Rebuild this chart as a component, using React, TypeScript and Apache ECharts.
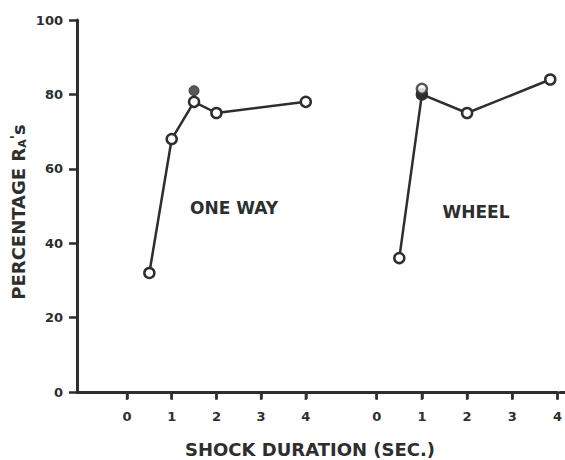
import React, { useEffect, useRef } from "react";
import * as echarts from "echarts";

const yTicks = [0, 20, 40, 60, 80, 100];
const xTicks = [0, 1, 2, 3, 4];
const oneWayX = [0.5, 1, 1.5, 2, 4];
const oneWayY = [32, 68, 78, 75, 78];
const oneWayFilledX = [1.5];
const oneWayFilledY = [81];
const wheelX = [0.5, 1, 2, 3.84];
const wheelY = [36, 80, 75, 84];
const wheelExtraX = [1];
const wheelExtraY = [81.5];
const panelLabels = ["ONE WAY", "WHEEL"];
const xTitle = "SHOCK DURATION (SEC.)";

const INK = "#2e2e2e";
const FONT = "'DejaVu Sans', sans-serif";

const zip = (xs: number[], ys: number[]) => xs.map((x, i) => [x, ys[i]]);

export default function App() {
  const ref = useRef<HTMLDivElement>(null);
  useEffect(() => {
    if (!ref.current) return;
    const chart = echarts.init(ref.current, undefined, { renderer: "svg" });
    const TOP = 20;
    const H = 372;
    const gA = { left: 77, width: 50 };
    const gB = { left: 127, width: 4 * 44.7 };
    const gC = { left: 127 + 4 * 44.7, width: 376.7 - (127 + 4 * 44.7) };
    const gD = { left: 376.7, width: 560 - 376.7 };
    const gE = { left: 560, width: 5 };
    const grids = [gA, gB, gC, gD, gE].map((g) => ({ ...g, top: TOP, height: H }));

    const lineOnlyX = (gridIndex: number) => ({
      type: "value" as const,
      gridIndex,
      min: 0,
      max: 1,
      splitLine: { show: false },
      axisLine: { show: true, onZero: false, lineStyle: { color: INK, width: 3 } },
      axisTick: { show: false },
      axisLabel: { show: false },
    });
    const tickedX = (gridIndex: number) => ({
      type: "value" as const,
      gridIndex,
      min: 0,
      max: xTicks[xTicks.length - 1],
      interval: 1,
      splitLine: { show: false },
      axisLine: { show: true, onZero: false, lineStyle: { color: INK, width: 3 } },
      axisTick: { show: true, length: 7, lineStyle: { color: INK, width: 2.5 } },
      axisLabel: {
        show: true,
        margin: 18,
        color: INK,
        fontSize: 13,
        fontWeight: "bold",
        fontFamily: FONT,
      },
    });
    const hiddenY = (gridIndex: number) => ({
      type: "value" as const,
      gridIndex,
      min: 0,
      max: 100,
      show: false,
      splitLine: { show: false },
    });
    const openSym = {
      symbol: "circle",
      symbolSize: 10,
      itemStyle: { color: "#fff", borderColor: INK, borderWidth: 2.5 },
    };
    const tickMarks = (axisIndex: number) => ({
      type: "scatter",
      xAxisIndex: axisIndex,
      yAxisIndex: axisIndex,
      data: xTicks.map((t) => [t, 0]),
      symbol: "rect",
      symbolSize: [2.5, 8],
      symbolOffset: [0, 4],
      itemStyle: { color: INK },
      silent: true,
      clip: false,
      z: 1,
    });
    const wheelData = zip(wheelX, wheelY).map((p, i) =>
      i === 1 ? { value: p, itemStyle: { color: INK, borderColor: INK } } : p
    );
    chart.setOption({
      animation: false,
      backgroundColor: "#fff",
      grid: grids,
      xAxis: [lineOnlyX(0), tickedX(1), lineOnlyX(2), tickedX(3), lineOnlyX(4)],
      yAxis: [
        {
          type: "value",
          gridIndex: 0,
          min: 0,
          max: 100,
          interval: 20,
          splitLine: { show: false },
          axisLine: { show: true, onZero: false, lineStyle: { color: INK, width: 3 } },
          axisTick: { show: true, length: 8, lineStyle: { color: INK, width: 2.5 } },
          axisLabel: {
            margin: 14,
            color: INK,
            fontSize: 13,
            fontWeight: "bold",
            fontFamily: FONT,
            formatter: (v: number) => (yTicks.includes(v) ? String(v) : ""),
          },
        },
        hiddenY(1),
        hiddenY(2),
        hiddenY(3),
        hiddenY(4),
      ],
      series: [
        tickMarks(1),
        tickMarks(3),
        {
          type: "scatter",
          xAxisIndex: 1,
          yAxisIndex: 1,
          data: zip(oneWayFilledX, oneWayFilledY),
          symbol: "circle",
          symbolSize: 10,
          itemStyle: { color: INK, borderColor: INK, borderWidth: 1 },
          z: 2,
        },
        {
          type: "line",
          xAxisIndex: 1,
          yAxisIndex: 1,
          data: zip(oneWayX, oneWayY),
          lineStyle: { color: INK, width: 2.5 },
          ...openSym,
          showAllSymbol: true,
          clip: false,
          z: 3,
        },
        {
          type: "line",
          xAxisIndex: 3,
          yAxisIndex: 3,
          data: wheelData,
          lineStyle: { color: INK, width: 2.5 },
          ...openSym,
          showAllSymbol: true,
          clip: false,
          z: 2,
        },
        {
          type: "scatter",
          xAxisIndex: 3,
          yAxisIndex: 3,
          data: zip(wheelExtraX, wheelExtraY),
          ...openSym,
          z: 4,
        },
      ],
      graphic: [
        {
          type: "text",
          x: 234,
          y: 208,
          style: {
            text: panelLabels[0],
            fill: INK,
            font: `bold 17px ${FONT}`,
            align: "center",
            verticalAlign: "middle",
          },
        },
        {
          type: "text",
          x: 476,
          y: 212,
          style: {
            text: panelLabels[1],
            fill: INK,
            font: `bold 17px ${FONT}`,
            align: "center",
            verticalAlign: "middle",
          },
        },
        {
          type: "text",
          x: 310,
          y: 449,
          style: {
            text: xTitle,
            fill: INK,
            font: `bold 18px ${FONT}`,
            align: "center",
            verticalAlign: "middle",
          },
        },
        {
          type: "text",
          x: 18,
          y: 212,
          rotation: Math.PI / 2,
          style: {
            text: "PERCENTAGE R{sub|A}{sup|'}s",
            fill: INK,
            font: `bold 18px ${FONT}`,
            align: "center",
            verticalAlign: "middle",
            rich: {
              sub: { fontSize: 11, fontWeight: "bold", fontFamily: FONT, fill: INK, padding: [9, 0, 0, 0] },
              sup: { fontSize: 14, fontWeight: "bold", fontFamily: FONT, fill: INK, padding: [0, 0, 7, 0] },
            },
          },
        },
      ],
    });
    return () => chart.dispose();
  }, []);
  return (
    <div
      ref={ref}
      style={{ position: "fixed", left: 0, top: 0, width: 565, height: 460 }}
    />
  );
}
